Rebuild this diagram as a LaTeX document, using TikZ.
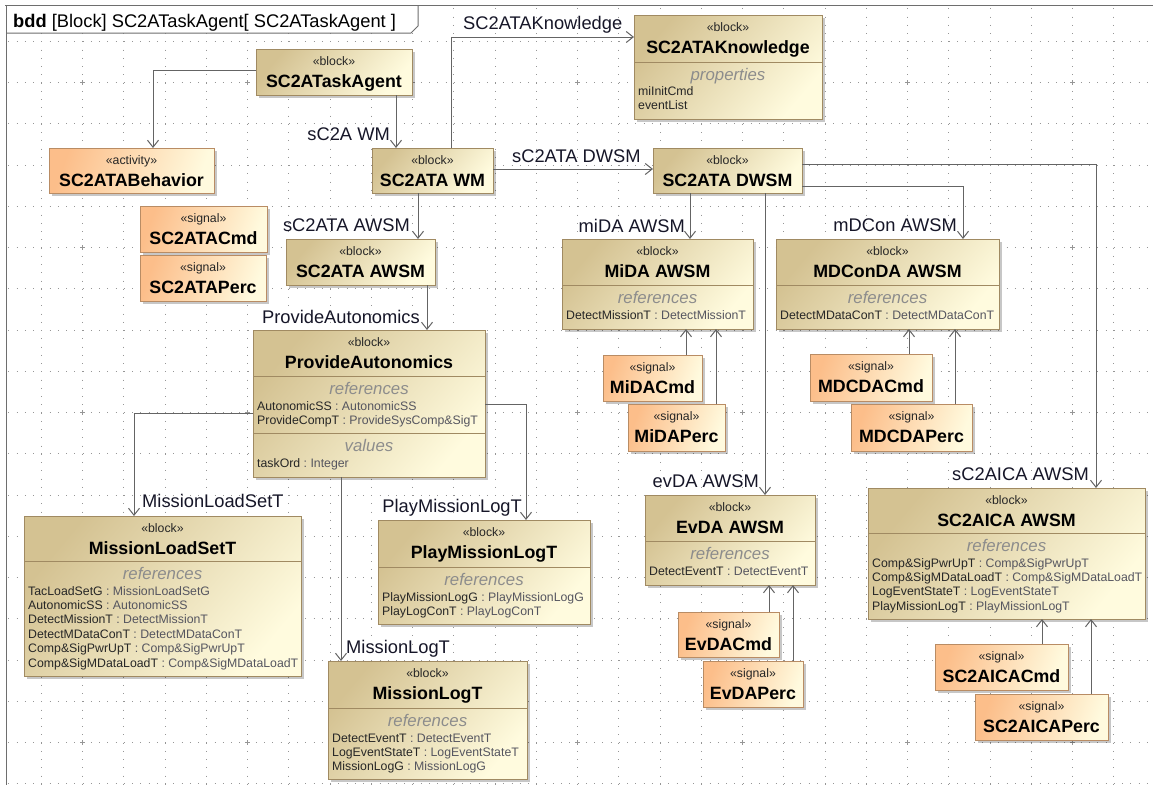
\documentclass[tikz,border=0pt]{standalone}
\usepackage{fontspec}
\setmainfont{Liberation Sans}
\usetikzlibrary{arrows.meta,shadows}

\definecolor{blkDark}{RGB}{212,194,146}
\definecolor{blkLight}{RGB}{255,251,222}
\definecolor{sigDark}{RGB}{252,190,138}
\definecolor{sigLight}{RGB}{255,250,222}
\definecolor{blkEdge}{RGB}{160,138,98}
\definecolor{sigEdge}{RGB}{185,140,100}
\definecolor{lineGray}{RGB}{100,100,100}
\definecolor{gridGray}{RGB}{150,150,150}
\definecolor{labelInk}{RGB}{22,22,40}
\definecolor{typeGray}{RGB}{85,85,95}
\definecolor{compGray}{RGB}{140,140,140}
\definecolor{frameGray}{RGB}{110,110,110}

\tikzset{
  umlshape/.style={line width=1pt, inner sep=0pt, outer sep=0pt,
    drop shadow={shadow xshift=2.5pt, shadow yshift=-2.5pt, fill=black, opacity=0.22}},
  blockbox/.style={umlshape, draw=blkEdge, top color=blkDark, bottom color=blkLight, shading angle=50},
  signalbox/.style={umlshape, draw=sigEdge, top color=sigDark, bottom color=sigLight, shading angle=70},
  stereo/.style={font=\fontsize{12.3}{14}\selectfont, text=black!85, inner sep=0pt, anchor=base},
  nametext/.style={font=\fontsize{17.8}{20}\selectfont\bfseries, text=black, inner sep=0pt, anchor=base},
  comptitle/.style={font=\fontsize{16.8}{18}\selectfont\itshape, text=compGray, inner sep=0pt, anchor=base},
  propline/.style={font=\fontsize{12.3}{14.4}\selectfont, text=black!85, inner sep=0pt, anchor=base west},
  sepline/.style={draw=blkEdge, line width=1pt},
  elabel/.style={font=\fontsize{18.3}{20}\selectfont, text=labelInk, inner sep=0pt},
  conn/.style={draw=lineGray, line width=1pt,
    -{Straight Barb[length=7pt, width=11pt, line width=1pt]}},
  gridline/.style={draw=gridGray, line width=0.8pt, dash pattern=on 0.8pt off 7.45pt},
  gridcross/.style={draw=gridGray, line width=0.8pt},
  frameline/.style={draw=frameGray, line width=1pt}
}

% block shell with stereotype and name: name, style, x1, y1, x2, y2, stereotype, title
\newcommand\umlblock[8]{%
  \node[#2, anchor=north west, minimum width={#5-#3}, minimum height={#6-#4}] (#1) at (#3,#4) {};
  \node[stereo] (#1-st) at ({(#3+#5)/2}, #4+16) {«#7»};
  \node[nametext] (#1-nm) at ({(#3+#5)/2}, #4+38.5) {#8};
}
% compartment divider and heading: box name, x1, x2, divider y, heading
\newcommand\umlcomp[5]{%
  \draw[sepline] (#2,#4) -- (#3,#4);
  \node[comptitle] (#1-#5) at ({(#2+#3)/2}, #4+18.5) {#5};
}
% typed entries: prefix, x, first baseline, list of name/type
\newcommand\umlprops[4]{%
  \foreach \qn/\qt [count=\qk] in {#4} {
    \node[propline] (#1-\qk) at (#2, {#3+14.4*(\qk-1)}) {\qn\ \textcolor{typeGray}{:\ \qt}};
  }
}

\begin{document}
\begin{tikzpicture}[x=1pt, y=-1pt]
\useasboundingbox (0,0) rectangle (1153,785);
\fill[white] (0,0) rectangle (1153,785);

% drawing grid
\foreach \k in {1,...,19} \draw[gridline] (8.25,41.25*\k) -- (1153,41.25*\k);
\foreach \k in {1,...,27} \draw[gridline] (41.25*\k,8.25) -- (41.25*\k,785);
\foreach \i in {2,6,...,26} \foreach \j in {2,6,10,14,18}
  \draw[gridcross] (41.25*\i-2.5,41.25*\j) -- (41.25*\i+2.5,41.25*\j)
                   (41.25*\i,41.25*\j-2.5) -- (41.25*\i,41.25*\j+2.5);

% diagram frame and name tab
\fill[white] (6,5) -- (418,5) -- (418,26) -- (411,33) -- (6,33) -- cycle;
\draw[frameline] (5,5) -- (1153,5);
\draw[frameline] (6,5) -- (6,785);
\draw[frameline] (6,33) -- (411,33) -- (418,26) -- (418,5);
\node[font=\fontsize{18.3}{20}\selectfont, text=black, inner sep=0pt, anchor=base west]
  (frame-title) at (13,27) {\textbf{bdd} [Block] SC2ATaskAgent[ SC2ATaskAgent ]};

% blocks
\umlblock{ta}{blockbox}{256}{49}{412}{95}{block}{SC2ATaskAgent}
\umlblock{beh}{signalbox}{49}{148}{214}{193}{activity}{SC2ATABehavior}
\umlblock{wm}{blockbox}{372}{148}{493}{193}{block}{SC2ATA WM}

\umlblock{kn}{blockbox}{634}{15}{822}{119}{block}{SC2ATAKnowledge}
\umlcomp{kn}{634}{822}{62}{properties}
\node[propline] (kn-1) at (638,95) {miInitCmd};
\node[propline] (kn-2) at (638,109.4) {eventList};

\umlblock{dw}{blockbox}{653}{148}{802}{193}{block}{SC2ATA DWSM}
\umlblock{atacmd}{signalbox}{140}{206}{267}{252}{signal}{SC2ATACmd}
\umlblock{ataperc}{signalbox}{140}{255}{266}{301}{signal}{SC2ATAPerc}
\umlblock{aw}{blockbox}{286}{239}{435}{285}{block}{SC2ATA AWSM}

\umlblock{pa}{blockbox}{253}{330}{485}{477}{block}{ProvideAutonomics}
\umlcomp{pa}{253}{485}{376}{references}
\umlprops{pa-r}{257}{410}{AutonomicSS/AutonomicSS, ProvideCompT/ProvideSysComp\&SigT}
\umlcomp{pa}{253}{485}{433}{values}
\umlprops{pa-v}{257}{467}{taskOrd/Integer}

\umlblock{mida}{blockbox}{562}{239}{753}{329}{block}{MiDA AWSM}
\umlcomp{mida}{562}{753}{285}{references}
\umlprops{mida-r}{566}{319}{DetectMissionT/DetectMissionT}
\umlblock{midacmd}{signalbox}{603}{355}{702}{401}{signal}{MiDACmd}
\umlblock{midaperc}{signalbox}{628}{404}{725}{451}{signal}{MiDAPerc}

\umlblock{mdcon}{blockbox}{776}{239}{999}{329}{block}{MDConDA AWSM}
\umlcomp{mdcon}{776}{999}{285}{references}
\umlprops{mdcon-r}{780}{319}{DetectMDataConT/DetectMDataConT}
\umlblock{mdccmd}{signalbox}{810}{354}{932}{401}{signal}{MDCDACmd}
\umlblock{mdcperc}{signalbox}{851}{404}{972}{451}{signal}{MDCDAPerc}

\umlblock{evda}{blockbox}{645}{495}{815}{585}{block}{EvDA AWSM}
\umlcomp{evda}{645}{815}{541}{references}
\umlprops{evda-r}{649}{575}{DetectEventT/DetectEventT}
\umlblock{evcmd}{signalbox}{678}{612}{779}{657}{signal}{EvDACmd}
\umlblock{evperc}{signalbox}{703}{661}{803}{707}{signal}{EvDAPerc}

\umlblock{aica}{blockbox}{868}{488}{1145}{619}{block}{SC2AICA AWSM}
\umlcomp{aica}{868}{1145}{533}{references}
\umlprops{aica-r}{872}{567}{Comp\&SigPwrUpT/Comp\&SigPwrUpT, Comp\&SigMDataLoadT/Comp\&SigMDataLoadT, LogEventStateT/LogEventStateT, PlayMissionLogT/PlayMissionLogT}
\umlblock{aicacmd}{signalbox}{935}{644}{1068}{690}{signal}{SC2AICACmd}
\umlblock{aicaperc}{signalbox}{975}{694}{1108}{740}{signal}{SC2AICAPerc}

\umlblock{mls}{blockbox}{24}{516}{301}{676}{block}{MissionLoadSetT}
\umlcomp{mls}{24}{301}{561}{references}
\umlprops{mls-r}{28}{595}{TacLoadSetG/MissionLoadSetG, AutonomicSS/AutonomicSS, DetectMissionT/DetectMissionT, DetectMDataConT/DetectMDataConT, Comp\&SigPwrUpT/Comp\&SigPwrUpT, Comp\&SigMDataLoadT/Comp\&SigMDataLoadT}

\umlblock{pml}{blockbox}{378}{520}{590}{624}{block}{PlayMissionLogT}
\umlcomp{pml}{378}{590}{567}{references}
\umlprops{pml-r}{382}{601}{PlayMissionLogG/PlayMissionLogG, PlayLogConT/PlayLogConT}

\umlblock{ml}{blockbox}{328}{661}{527}{779}{block}{MissionLogT}
\umlcomp{ml}{328}{527}{708}{references}
\umlprops{ml-r}{332}{742}{DetectEventT/DetectEventT, LogEventStateT/LogEventStateT, MissionLogG/MissionLogG}

% directed associations
\draw[conn] ([yshift=-21pt]ta.north west) -| ([xshift=104pt]beh.north west);
\draw[conn] ([xshift=140pt]ta.south west) -- ([xshift=24pt]wm.north west);
\draw[conn] ([xshift=79pt]wm.north west) |- ([yshift=-22pt]kn.north west);
\draw[conn] ([yshift=-21pt]wm.north east) -- ([yshift=-21pt]dw.north west);
\draw[conn] ([xshift=46pt]wm.south west) -- ([xshift=132pt]aw.north west);
\draw[conn] ([xshift=141pt]aw.south west) -- ([xshift=174pt]pa.north west);
\draw[conn] ([xshift=37pt]dw.south west) -- ([xshift=128pt]mida.north west);
\draw[conn] ([xshift=112pt]dw.south west) -- ([xshift=120pt]evda.north west);
\draw[conn] ([yshift=-38pt]dw.north east) -| ([xshift=187pt]mdcon.north west);
\draw[conn] ([yshift=-16pt]dw.north east) -| ([xshift=228pt]aica.north west);
\draw[conn] ([yshift=-83pt]pa.north west) -| ([xshift=110pt]mls.north west);
\draw[conn] ([yshift=-74pt]pa.north east) -| ([xshift=148pt]pml.north west);
\draw[conn] ([xshift=88pt]pa.south west) -- ([xshift=13pt]ml.north west);
\draw[conn] ([xshift=83pt]midacmd.north west) -- ([xshift=124pt]mida.south west);
\draw[conn] ([xshift=88pt]midaperc.north west) -- ([xshift=154pt]mida.south west);
\draw[conn] ([xshift=99pt]mdccmd.north west) -- ([xshift=133pt]mdcon.south west);
\draw[conn] ([xshift=104pt]mdcperc.north west) -- ([xshift=179pt]mdcon.south west);
\draw[conn] ([xshift=91pt]evcmd.north west) -- ([xshift=124pt]evda.south west);
\draw[conn] ([xshift=90pt]evperc.north west) -- ([xshift=148pt]evda.south west);
\draw[conn] ([xshift=107pt]aicacmd.north west) -- ([xshift=174pt]aica.south west);
\draw[conn] ([xshift=116pt]aicaperc.north west) -- ([xshift=223pt]aica.south west);

% association end names
\node[elabel, anchor=base east] (l-wm) at (390,140) {sC2A WM};
\node[elabel, anchor=base west] (l-kn) at (463,29) {SC2ATAKnowledge};
\node[elabel, anchor=base west] (l-dw) at (512,162) {sC2ATA DWSM};
\node[elabel, anchor=base east] (l-aw) at (410,231) {sC2ATA AWSM};
\node[elabel, anchor=base east] (l-pa) at (420,323) {ProvideAutonomics};
\node[elabel, anchor=base east] (l-mida) at (685,232) {miDA AWSM};
\node[elabel, anchor=base east] (l-mdcon) at (957,231) {mDCon AWSM};
\node[elabel, anchor=base east] (l-evda) at (759,487) {evDA AWSM};
\node[elabel, anchor=base east] (l-aica) at (1089,480) {sC2AICA AWSM};
\node[elabel, anchor=base west] (l-mls) at (142,507) {MissionLoadSetT};
\node[elabel, anchor=base east] (l-pml) at (522,512) {PlayMissionLogT};
\node[elabel, anchor=base west] (l-ml) at (346,653) {MissionLogT};
\end{tikzpicture}
\end{document}
